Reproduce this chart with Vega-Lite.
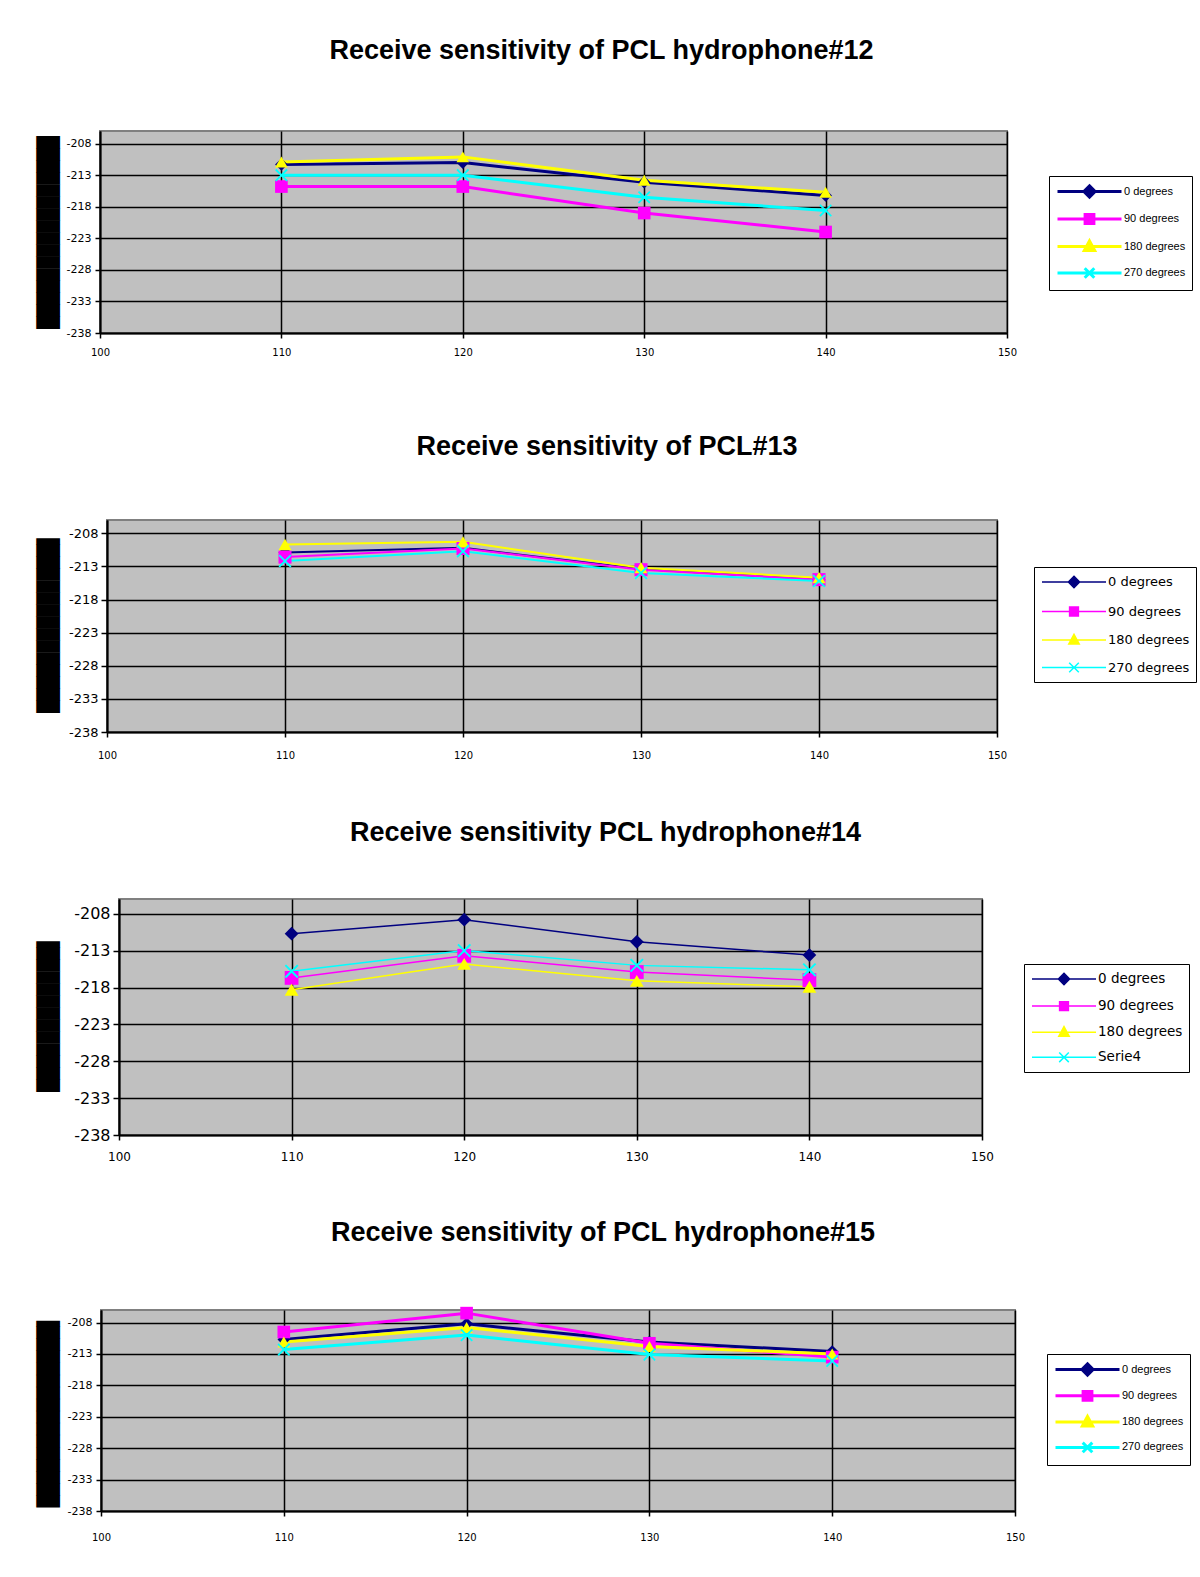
{
  "$schema": "https://vega.github.io/schema/vega-lite/v6.json",
  "background": "white",
  "padding": {"left": 36, "top": 36, "right": 0, "bottom": 0},
  "columns": 1,
  "spacing": 55,
  "resolve": {"scale": {"color": "independent"}, "legend": {"color": "independent"}},
  "config": {
    "view": {"fill": "#c0c0c0", "stroke": "#808080", "strokeWidth": 2},
    "axis": {"domainColor": "black", "domainWidth": 2, "gridColor": "black", "gridWidth": 1.5, "tickColor": "black", "tickWidth": 1.5, "labelColor": "black", "titleColor": "black"},
    "legend": {"titleColor": "black", "labelColor": "black"}
  },
  "concat": [
    {"spacing": 0, "hconcat": [
      {"width": 1, "height": 1, "data": {"values": [{}]}, "mark": {"type": "text", "text": ""}, "view": {"fill": null, "stroke": null}},
      {
      "title": {"text": "Receive sensitivity of PCL hydrophone#12", "font": "Liberation Sans", "fontSize": 27, "fontWeight": "bold", "color": "black", "anchor": "middle", "frame": "group", "dx": 48, "offset": 66},
      "width": 907, "height": 202,
      "data": {"values": [
        {"series": "0 degrees", "frequency": 110, "sensitivity": -211.3},
        {"series": "0 degrees", "frequency": 120, "sensitivity": -211.0},
        {"series": "0 degrees", "frequency": 130, "sensitivity": -214.1},
        {"series": "0 degrees", "frequency": 140, "sensitivity": -216.2},
        {"series": "90 degrees", "frequency": 110, "sensitivity": -214.8},
        {"series": "90 degrees", "frequency": 120, "sensitivity": -214.8},
        {"series": "90 degrees", "frequency": 130, "sensitivity": -219.0},
        {"series": "90 degrees", "frequency": 140, "sensitivity": -222.0},
        {"series": "180 degrees", "frequency": 110, "sensitivity": -210.9},
        {"series": "180 degrees", "frequency": 120, "sensitivity": -210.1},
        {"series": "180 degrees", "frequency": 130, "sensitivity": -213.8},
        {"series": "180 degrees", "frequency": 140, "sensitivity": -215.7},
        {"series": "270 degrees", "frequency": 110, "sensitivity": -213.0},
        {"series": "270 degrees", "frequency": 120, "sensitivity": -213.0},
        {"series": "270 degrees", "frequency": 130, "sensitivity": -216.5},
        {"series": "270 degrees", "frequency": 140, "sensitivity": -218.6}
      ]},
      "encoding": {
        "x": {"field": "frequency", "type": "quantitative", "scale": {"domain": [100, 150], "nice": false, "zero": false},
              "axis": {"values": [100, 110, 120, 130, 140, 150], "format": "d", "grid": true, "tickSize": 5, "labelPadding": 9, "labelFlush": false, "labelFont": "DejaVu Sans", "labelFontSize": 10, "title": " ", "titleFontSize": 1, "titlePadding": 18}},
        "y": {"field": "sensitivity", "type": "quantitative", "scale": {"domain": [-238, -206], "nice": false, "zero": false},
              "axis": {"values": [-238, -233, -228, -223, -218, -213, -208], "labelExpr": "'' + datum.value", "grid": true, "tickSize": 5, "labelPadding": 4, "labelFont": "DejaVu Sans", "labelFontSize": 11, "title": "████████████████", "titleFont": "DejaVu Sans Mono", "titleFontSize": 20, "titleFontWeight": "normal", "titlePadding": 7.5}}
      },
      "layer": [
        {"mark": {"type": "line", "strokeWidth": 3},
         "encoding": {"color": {"field": "series", "type": "nominal", "scale": {"domain": ["0 degrees", "90 degrees", "180 degrees", "270 degrees"], "range": ["#000080", "#ff00ff", "#ffff00", "#00ffff"]},
           "legend": {"title": null, "orient": "none", "legendX": 1013, "legendY": 45, "strokeColor": "black", "fillColor": "white", "padding": 6, "symbolSize": 256, "symbolOffset": 25, "labelOffset": 25, "rowPadding": 4.5, "labelFont": "Liberation Sans Narrow, Liberation Sans", "labelFontSize": 11,
             "encode": {"symbols": {"update": {"shape": {"signal": "['M-4,0H4M0,-0.7L0.7,0L0,0.7L-0.7,0Z','M-4,0H4M-0.55,-0.55H0.55V0.55H-0.55Z','M-4,0H4M0,-0.7L0.65,0.5H-0.65Z','M-4,0H4M-0.6,-0.6L0.6,0.6M-0.6,0.6L0.6,-0.6'][datum.index]"}, "fill": {"signal": "['#000080','#ff00ff','#ffff00','#00ffff'][datum.index]"}, "stroke": {"signal": "['#000080','#ff00ff','#ffff00','#00ffff'][datum.index]"}, "strokeWidth": {"value": 3}, "opacity": {"value": 1}}}}}}}},
        {"transform": [{"filter": "datum.series == '0 degrees'"}], "mark": {"type": "point", "shape": "diamond", "filled": true, "color": "#000080", "size": 160, "opacity": 1}},
        {"transform": [{"filter": "datum.series == '90 degrees'"}], "mark": {"type": "point", "shape": "square", "filled": true, "color": "#ff00ff", "size": 160, "opacity": 1}},
        {"transform": [{"filter": "datum.series == '180 degrees'"}], "mark": {"type": "point", "shape": "triangle-up", "filled": true, "color": "#ffff00", "size": 160, "opacity": 1}},
        {"transform": [{"filter": "datum.series == '270 degrees'"}], "mark": {"type": "point", "shape": "M-1,-0.8L-0.8,-1L0,-0.2L0.8,-1L1,-0.8L0.2,0L1,0.8L0.8,1L0,0.2L-0.8,1L-1,0.8L-0.2,0Z", "filled": true, "color": "#00ffff", "size": 160, "opacity": 1}}
      ]
    }]},
    {"spacing": 0, "hconcat": [
      {"width": 1, "height": 1, "data": {"values": [{}]}, "mark": {"type": "text", "text": ""}, "view": {"fill": null, "stroke": null}},
      {
      "title": {"text": "Receive sensitivity of PCL#13", "font": "Liberation Sans", "fontSize": 27, "fontWeight": "bold", "color": "black", "anchor": "middle", "frame": "group", "dx": 55, "offset": 58.6},
      "width": 890, "height": 212,
      "data": {"values": [
        {"series": "0 degrees", "frequency": 110, "sensitivity": -210.9},
        {"series": "0 degrees", "frequency": 120, "sensitivity": -210.2},
        {"series": "0 degrees", "frequency": 130, "sensitivity": -213.4},
        {"series": "0 degrees", "frequency": 140, "sensitivity": -215.0},
        {"series": "90 degrees", "frequency": 110, "sensitivity": -211.6},
        {"series": "90 degrees", "frequency": 120, "sensitivity": -210.3},
        {"series": "90 degrees", "frequency": 130, "sensitivity": -213.5},
        {"series": "90 degrees", "frequency": 140, "sensitivity": -215.0},
        {"series": "180 degrees", "frequency": 110, "sensitivity": -209.7},
        {"series": "180 degrees", "frequency": 120, "sensitivity": -209.3},
        {"series": "180 degrees", "frequency": 130, "sensitivity": -213.2},
        {"series": "180 degrees", "frequency": 140, "sensitivity": -214.7},
        {"series": "270 degrees", "frequency": 110, "sensitivity": -212.2},
        {"series": "270 degrees", "frequency": 120, "sensitivity": -210.7},
        {"series": "270 degrees", "frequency": 130, "sensitivity": -214.0},
        {"series": "270 degrees", "frequency": 140, "sensitivity": -215.2}
      ]},
      "encoding": {
        "x": {"field": "frequency", "type": "quantitative", "scale": {"domain": [100, 150], "nice": false, "zero": false},
              "axis": {"values": [100, 110, 120, 130, 140, 150], "format": "d", "grid": true, "tickSize": 5, "labelPadding": 13, "labelFlush": false, "labelFont": "DejaVu Sans", "labelFontSize": 10, "title": " ", "titleFontSize": 1, "titlePadding": 1}},
        "y": {"field": "sensitivity", "type": "quantitative", "scale": {"domain": [-238, -206], "nice": false, "zero": false},
              "axis": {"values": [-238, -233, -228, -223, -218, -213, -208], "labelExpr": "'' + datum.value", "grid": true, "tickSize": 6, "labelPadding": 3, "labelFont": "DejaVu Sans", "labelFontSize": 13, "title": "██████████████▌", "titleFont": "DejaVu Sans Mono", "titleFontSize": 20, "titleFontWeight": "normal", "titlePadding": 10, "titleY": 102}}
      },
      "layer": [
        {"mark": {"type": "line", "strokeWidth": 2},
         "encoding": {"color": {"field": "series", "type": "nominal", "scale": {"domain": ["0 degrees", "90 degrees", "180 degrees", "270 degrees"], "range": ["#000080", "#ff00ff", "#ffff00", "#00ffff"]},
           "legend": {"title": null, "orient": "none", "legendX": 998, "legendY": 47, "strokeColor": "black", "fillColor": "white", "padding": 6, "symbolSize": 256, "symbolOffset": 25, "labelOffset": 25, "rowPadding": 11.5, "labelFont": "DejaVu Sans", "labelFontSize": 13,
             "encode": {"symbols": {"update": {"shape": {"signal": "['M-4,0H4M0,-0.7L0.7,0L0,0.7L-0.7,0Z','M-4,0H4M-0.55,-0.55H0.55V0.55H-0.55Z','M-4,0H4M0,-0.7L0.65,0.5H-0.65Z','M-4,0H4M-0.6,-0.6L0.6,0.6M-0.6,0.6L0.6,-0.6'][datum.index]"}, "fill": {"signal": "['#000080','#ff00ff','#ffff00','#00ffff'][datum.index]"}, "stroke": {"signal": "['#000080','#ff00ff','#ffff00','#00ffff'][datum.index]"}, "strokeWidth": {"value": 1.5}, "opacity": {"value": 1}}}}}}}},
        {"transform": [{"filter": "datum.series == '0 degrees'"}], "mark": {"type": "point", "shape": "diamond", "filled": true, "color": "#000080", "size": 170, "opacity": 1}},
        {"transform": [{"filter": "datum.series == '90 degrees'"}], "mark": {"type": "point", "shape": "square", "filled": true, "color": "#ff00ff", "size": 170, "opacity": 1}},
        {"transform": [{"filter": "datum.series == '180 degrees'"}], "mark": {"type": "point", "shape": "triangle-up", "filled": true, "color": "#ffff00", "size": 170, "opacity": 1}},
        {"transform": [{"filter": "datum.series == '270 degrees'"}], "mark": {"type": "point", "shape": "M-1,-0.8L-0.8,-1L0,-0.2L0.8,-1L1,-0.8L0.2,0L1,0.8L0.8,1L0,0.2L-0.8,1L-1,0.8L-0.2,0Z", "filled": true, "color": "#00ffff", "size": 170, "opacity": 1}}
      ]
    }]},
    {"spacing": 0, "hconcat": [
      {"width": 1, "height": 1, "data": {"values": [{}]}, "mark": {"type": "text", "text": ""}, "view": {"fill": null, "stroke": null}},
      {
      "title": {"text": "Receive sensitivity PCL hydrophone#14", "font": "Liberation Sans", "fontSize": 27, "fontWeight": "bold", "color": "black", "anchor": "middle", "frame": "group", "dx": 55, "offset": 51.6},
      "width": 863, "height": 236,
      "data": {"values": [
        {"series": "0 degrees", "frequency": 110, "sensitivity": -210.7},
        {"series": "0 degrees", "frequency": 120, "sensitivity": -208.8},
        {"series": "0 degrees", "frequency": 130, "sensitivity": -211.8},
        {"series": "0 degrees", "frequency": 140, "sensitivity": -213.6},
        {"series": "90 degrees", "frequency": 110, "sensitivity": -216.7},
        {"series": "90 degrees", "frequency": 120, "sensitivity": -213.7},
        {"series": "90 degrees", "frequency": 130, "sensitivity": -215.9},
        {"series": "90 degrees", "frequency": 140, "sensitivity": -217.0},
        {"series": "180 degrees", "frequency": 110, "sensitivity": -218.3},
        {"series": "180 degrees", "frequency": 120, "sensitivity": -214.8},
        {"series": "180 degrees", "frequency": 130, "sensitivity": -217.1},
        {"series": "180 degrees", "frequency": 140, "sensitivity": -217.9},
        {"series": "Serie4", "frequency": 110, "sensitivity": -215.8},
        {"series": "Serie4", "frequency": 120, "sensitivity": -213.0},
        {"series": "Serie4", "frequency": 130, "sensitivity": -215.0},
        {"series": "Serie4", "frequency": 140, "sensitivity": -215.6}
      ]},
      "encoding": {
        "x": {"field": "frequency", "type": "quantitative", "scale": {"domain": [100, 150], "nice": false, "zero": false},
              "axis": {"values": [100, 110, 120, 130, 140, 150], "format": "d", "grid": true, "tickSize": 5, "labelPadding": 11, "labelFlush": false, "labelFont": "DejaVu Sans", "labelFontSize": 12, "title": null}},
        "y": {"field": "sensitivity", "type": "quantitative", "scale": {"domain": [-238, -206], "nice": false, "zero": false},
              "axis": {"values": [-238, -233, -228, -223, -218, -213, -208], "labelExpr": "'' + datum.value", "grid": true, "tickSize": 6, "labelPadding": 3, "labelFont": "DejaVu Sans", "labelFontSize": 16, "title": "████████████▌", "titleFont": "DejaVu Sans Mono", "titleFontSize": 20, "titleFontWeight": "normal", "titlePadding": 15.2, "titleY": 114}}
      },
      "layer": [
        {"mark": {"type": "line", "strokeWidth": 1.5},
         "encoding": {"color": {"field": "series", "type": "nominal", "scale": {"domain": ["0 degrees", "90 degrees", "180 degrees", "Serie4"], "range": ["#000080", "#ff00ff", "#ffff00", "#00ffff"]},
           "legend": {"title": null, "orient": "none", "legendX": 988, "legendY": 65, "strokeColor": "black", "fillColor": "white", "padding": 6, "symbolSize": 256, "symbolOffset": 25, "labelOffset": 25, "rowPadding": 9.1, "labelFont": "DejaVu Sans", "labelFontSize": 13.5,
             "encode": {"symbols": {"update": {"shape": {"signal": "['M-4,0H4M0,-0.7L0.7,0L0,0.7L-0.7,0Z','M-4,0H4M-0.55,-0.55H0.55V0.55H-0.55Z','M-4,0H4M0,-0.7L0.65,0.5H-0.65Z','M-4,0H4M-0.6,-0.6L0.6,0.6M-0.6,0.6L0.6,-0.6'][datum.index]"}, "fill": {"signal": "['#000080','#ff00ff','#ffff00','#00ffff'][datum.index]"}, "stroke": {"signal": "['#000080','#ff00ff','#ffff00','#00ffff'][datum.index]"}, "strokeWidth": {"value": 1.5}, "opacity": {"value": 1}}}}}}}},
        {"transform": [{"filter": "datum.series == '0 degrees'"}], "mark": {"type": "point", "shape": "diamond", "filled": true, "color": "#000080", "size": 190, "opacity": 1}},
        {"transform": [{"filter": "datum.series == '90 degrees'"}], "mark": {"type": "point", "shape": "square", "filled": true, "color": "#ff00ff", "size": 190, "opacity": 1}},
        {"transform": [{"filter": "datum.series == '180 degrees'"}], "mark": {"type": "point", "shape": "triangle-up", "filled": true, "color": "#ffff00", "size": 190, "opacity": 1}},
        {"transform": [{"filter": "datum.series == 'Serie4'"}], "mark": {"type": "point", "shape": "M-1,-0.8L-0.8,-1L0,-0.2L0.8,-1L1,-0.8L0.2,0L1,0.8L0.8,1L0,0.2L-0.8,1L-1,0.8L-0.2,0Z", "filled": true, "color": "#00ffff", "size": 190, "opacity": 1}}
      ]
    }]},
    {"spacing": 0, "hconcat": [
      {"width": 1, "height": 1, "data": {"values": [{}]}, "mark": {"type": "text", "text": ""}, "view": {"fill": null, "stroke": null}},
      {
      "title": {"text": "Receive sensitivity of PCL hydrophone#15", "font": "Liberation Sans", "fontSize": 27, "fontWeight": "bold", "color": "black", "anchor": "middle", "frame": "group", "dx": 45, "offset": 59.5},
      "width": 914, "height": 201,
      "data": {"values": [
        {"series": "0 degrees", "frequency": 110, "sensitivity": -210.7},
        {"series": "0 degrees", "frequency": 120, "sensitivity": -208.2},
        {"series": "0 degrees", "frequency": 130, "sensitivity": -211.1},
        {"series": "0 degrees", "frequency": 140, "sensitivity": -212.6},
        {"series": "90 degrees", "frequency": 110, "sensitivity": -209.5},
        {"series": "90 degrees", "frequency": 120, "sensitivity": -206.5},
        {"series": "90 degrees", "frequency": 130, "sensitivity": -211.3},
        {"series": "90 degrees", "frequency": 140, "sensitivity": -213.5},
        {"series": "180 degrees", "frequency": 110, "sensitivity": -211.1},
        {"series": "180 degrees", "frequency": 120, "sensitivity": -208.8},
        {"series": "180 degrees", "frequency": 130, "sensitivity": -211.8},
        {"series": "180 degrees", "frequency": 140, "sensitivity": -213.0},
        {"series": "270 degrees", "frequency": 110, "sensitivity": -212.3},
        {"series": "270 degrees", "frequency": 120, "sensitivity": -210.0},
        {"series": "270 degrees", "frequency": 130, "sensitivity": -213.1},
        {"series": "270 degrees", "frequency": 140, "sensitivity": -214.1}
      ]},
      "encoding": {
        "x": {"field": "frequency", "type": "quantitative", "scale": {"domain": [100, 150], "nice": false, "zero": false},
              "axis": {"values": [100, 110, 120, 130, 140, 150], "format": "d", "grid": true, "tickSize": 5, "labelPadding": 16, "labelFlush": false, "labelFont": "DejaVu Sans", "labelFontSize": 10, "title": null}},
        "y": {"field": "sensitivity", "type": "quantitative", "scale": {"domain": [-238, -206], "nice": false, "zero": false},
              "axis": {"values": [-238, -233, -228, -223, -218, -213, -208], "labelExpr": "'' + datum.value", "grid": true, "tickSize": 5, "labelPadding": 4, "labelFont": "DejaVu Sans", "labelFontSize": 11, "title": "███████████████▌", "titleFont": "DejaVu Sans Mono", "titleFontSize": 20, "titleFontWeight": "normal", "titlePadding": 8.5}}
      },
      "layer": [
        {"mark": {"type": "line", "strokeWidth": 3},
         "encoding": {"color": {"field": "series", "type": "nominal", "scale": {"domain": ["0 degrees", "90 degrees", "180 degrees", "270 degrees"], "range": ["#000080", "#ff00ff", "#ffff00", "#00ffff"]},
           "legend": {"title": null, "orient": "none", "legendX": 1011, "legendY": 44, "strokeColor": "black", "fillColor": "white", "padding": 6, "symbolSize": 256, "symbolOffset": 25, "labelOffset": 25, "rowPadding": 3.3, "labelFont": "Liberation Sans Narrow, Liberation Sans", "labelFontSize": 11,
             "encode": {"symbols": {"update": {"shape": {"signal": "['M-4,0H4M0,-0.7L0.7,0L0,0.7L-0.7,0Z','M-4,0H4M-0.55,-0.55H0.55V0.55H-0.55Z','M-4,0H4M0,-0.7L0.65,0.5H-0.65Z','M-4,0H4M-0.6,-0.6L0.6,0.6M-0.6,0.6L0.6,-0.6'][datum.index]"}, "fill": {"signal": "['#000080','#ff00ff','#ffff00','#00ffff'][datum.index]"}, "stroke": {"signal": "['#000080','#ff00ff','#ffff00','#00ffff'][datum.index]"}, "strokeWidth": {"value": 3}, "opacity": {"value": 1}}}}}}}},
        {"transform": [{"filter": "datum.series == '0 degrees'"}], "mark": {"type": "point", "shape": "diamond", "filled": true, "color": "#000080", "size": 160, "opacity": 1}},
        {"transform": [{"filter": "datum.series == '90 degrees'"}], "mark": {"type": "point", "shape": "square", "filled": true, "color": "#ff00ff", "size": 160, "opacity": 1}},
        {"transform": [{"filter": "datum.series == '180 degrees'"}], "mark": {"type": "point", "shape": "triangle-up", "filled": true, "color": "#ffff00", "size": 160, "opacity": 1}},
        {"transform": [{"filter": "datum.series == '270 degrees'"}], "mark": {"type": "point", "shape": "M-1,-0.8L-0.8,-1L0,-0.2L0.8,-1L1,-0.8L0.2,0L1,0.8L0.8,1L0,0.2L-0.8,1L-1,0.8L-0.2,0Z", "filled": true, "color": "#00ffff", "size": 160, "opacity": 1}}
      ]
    }]}
  ]
}
